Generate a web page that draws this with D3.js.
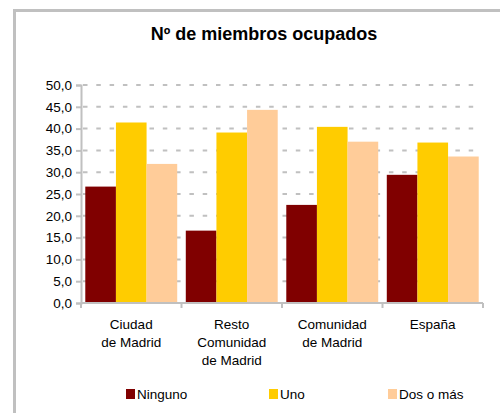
<!DOCTYPE html>
<html>
<head>
<meta charset="utf-8">
<script src="https://cdn.jsdelivr.net/npm/d3@7"></script>
<style>
    body { margin: 0; background: #fff; }
    svg { display: block; font-family: "Liberation Sans", Arial, sans-serif; }
</style>
</head>
<body>
<div id="chart"></div>
<script>
// Data
const categories = [["Ciudad", "de Madrid"], ["Resto", "Comunidad", "de Madrid"], ["Comunidad", "de Madrid"], ["España"]];
const seriesNames = ["Ninguno", "Uno", "Dos o más"];
const ninguno = [26.7, 16.6, 22.5, 29.4];
const uno = [41.4, 39.1, 40.4, 36.8];
const dosOMas = [31.9, 44.3, 37.0, 33.6];
const yTicks = [0, 5, 10, 15, 20, 25, 30, 35, 40, 45, 50];

const colors = ["#800000", "#ffcc00", "#ffcc99"];
const series = [ninguno, uno, dosOMas];

// Chart dimensions
const width = 500;
const height = 413;
const marginLeft = 81;
const marginRight = 17;
const marginTop = 85;
const plotBottom = 303;
const fontSize = 13.5;

const svg = d3.create("svg")
    .attr("width", width)
    .attr("height", height);

document.getElementById("chart").append(svg.node());

// Frame of the chart area
svg.append("rect")
    .attr("x", 14.5)
    .attr("y", 10.5)
    .attr("width", 520)
    .attr("height", 440)
    .attr("fill", "#fff")
    .attr("stroke", "#c0c0c0")
    .attr("stroke-width", 3);

// Title
svg.append("text")
    .attr("x", 264)
    .attr("y", 40)
    .attr("text-anchor", "middle")
    .attr("font-size", 18)
    .attr("font-weight", "bold")
    .text("Nº de miembros ocupados");

// Scales
const x = d3.scaleBand()
    .domain(d3.range(categories.length))
    .range([marginLeft, width - marginRight]);

const xInner = d3.scaleBand()
    .domain(d3.range(series.length))
    .range([0, x.bandwidth()])
    .paddingOuter(0.14)
    .paddingInner(0);

const y = d3.scaleLinear()
    .domain([0, 50])
    .range([plotBottom, marginTop]);

// Dashed gridlines
svg.append("g")
    .selectAll("line")
    .data(yTicks.filter(d => d > 0))
    .join("line")
    .attr("x1", marginLeft + 2)
    .attr("x2", width - marginRight - 3)
    .attr("y1", d => y(d))
    .attr("y2", d => y(d))
    .attr("stroke", "#c0c0c0")
    .attr("stroke-width", 2)
    .attr("stroke-dasharray", "4.5,8.8");

// Bars
series.forEach((values, s) => {
    svg.append("g")
        .attr("fill", colors[s])
        .selectAll("rect")
        .data(values)
        .join("rect")
        .attr("x", (d, i) => x(i) + xInner(s))
        .attr("y", d => y(d))
        .attr("width", xInner.bandwidth())
        .attr("height", d => y(0) - y(d));
});

// Y axis
const gy = svg.append("g")
    .attr("transform", `translate(${marginLeft},0)`)
    .call(d3.axisLeft(y)
        .tickValues(yTicks)
        .tickSize(5)
        .tickPadding(4)
        .tickFormat(d => d3.format(".1f")(d).replace(".", ",")));
gy.select(".domain").attr("stroke", "#c0c0c0").attr("stroke-width", 2);
gy.selectAll(".tick line").attr("stroke", "#c0c0c0").attr("stroke-width", 2);
gy.selectAll("text")
    .attr("font-family", "Liberation Sans, Arial, sans-serif")
    .attr("font-size", fontSize)
    .attr("fill", "#000");

// X axis line and category boundary ticks
const gx = svg.append("g");
gx.append("line")
    .attr("x1", marginLeft)
    .attr("x2", width - marginRight)
    .attr("y1", plotBottom)
    .attr("y2", plotBottom)
    .attr("stroke", "#c0c0c0")
    .attr("stroke-width", 2);
gx.selectAll("line.tick")
    .data(d3.range(categories.length + 1))
    .join("line")
    .attr("class", "tick")
    .attr("x1", i => i < categories.length ? x(i) : x(i - 1) + x.bandwidth())
    .attr("x2", i => i < categories.length ? x(i) : x(i - 1) + x.bandwidth())
    .attr("y1", plotBottom)
    .attr("y2", plotBottom + 5)
    .attr("stroke", "#c0c0c0")
    .attr("stroke-width", 2);

// Category labels
const labels = gx.selectAll("text")
    .data(categories)
    .join("text")
    .attr("text-anchor", "middle")
    .attr("font-size", fontSize)
    .attr("fill", "#000");
labels.selectAll("tspan")
    .data((d, i) => d.map(line => ({ line, i })))
    .join("tspan")
    .attr("x", d => x(d.i) + x.bandwidth() / 2)
    .attr("y", (d, j) => 329 + j * 18)
    .text(d => d.line);

// Legend
const legendX = [126, 269, 388];
const legend = svg.append("g")
    .selectAll("g")
    .data(seriesNames)
    .join("g")
    .attr("transform", (d, i) => `translate(${legendX[i]},389)`);
legend.append("rect")
    .attr("width", 9)
    .attr("height", 10)
    .attr("fill", (d, i) => colors[i]);
legend.append("text")
    .attr("x", 11)
    .attr("y", 9.5)
    .attr("font-size", fontSize)
    .text(d => d);
</script>
</body>
</html>
